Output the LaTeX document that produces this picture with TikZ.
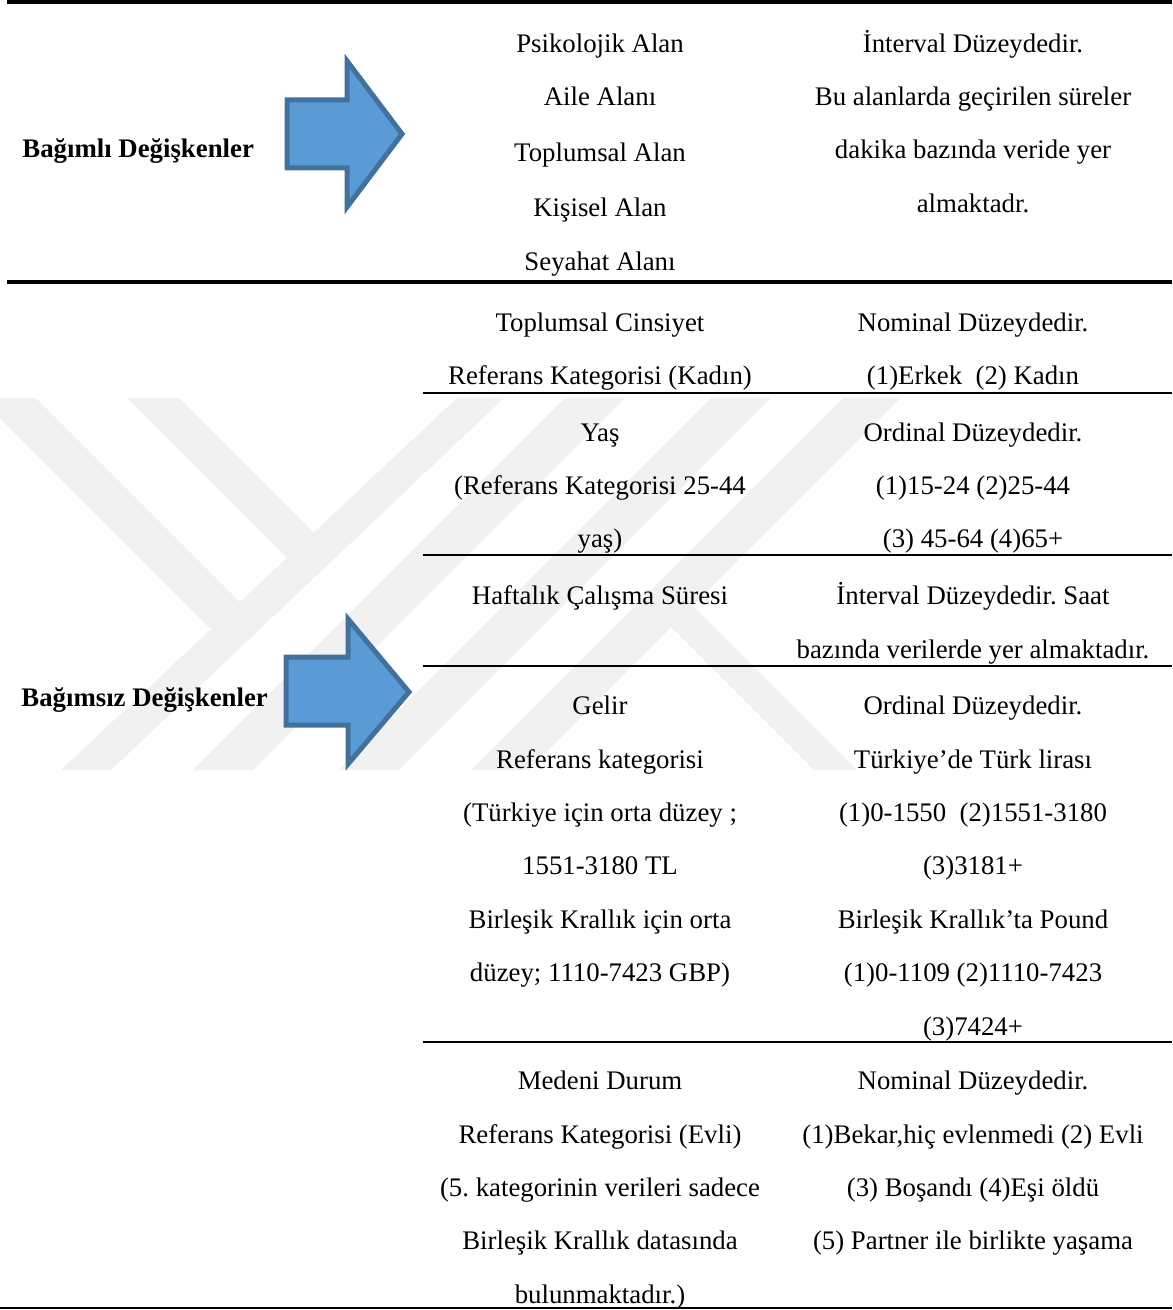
\documentclass[tikz,border=0pt]{standalone}
\usepackage{fontspec}
\setmainfont{Liberation Serif}
\frenchspacing
\definecolor{arrowfill}{HTML}{5B9BD5}
\definecolor{arrowline}{HTML}{41719C}
\definecolor{wmgray}{HTML}{F1F1F1}
\begin{document}
\begin{tikzpicture}[x=0.5pt,y=-0.5pt,
  cell/.style={font=\fontsize{13.4}{15}\selectfont, inner sep=0pt, anchor=base, yshift=-0.75pt},
  lbl/.style={font=\fontsize{13.4}{15}\selectfont\bfseries, inner sep=0pt, anchor=base west, yshift=-0.5pt},
  thickrule/.style={line width=2.2pt},
  thinrule/.style={line width=1.3pt},
  bigarrow/.style={fill=arrowfill, draw=arrowline, line width=2.5pt, line join=miter},
  wm/.style={fill=wmgray}]
\useasboundingbox (0,0) rectangle (1172,1310);
\fill[white] (0,0) rectangle (1172,1310);
% watermark
\begin{scope}
  \clip (0,398) rectangle (1010,770);
  \fill[wm] (457,398) -- (504,398) -- (111,770) -- (61,770) -- cycle;
  \fill[wm] (565,398) -- (625,398) -- (253,770) -- (193,770) -- cycle;
  \fill[wm] (711,398) -- (771,398) -- (399,770) -- (339,770) -- cycle;
  \fill[wm] (843,398) -- (900,398) -- (528,770) -- (471,770) -- cycle;
  \fill[wm] (-20,398) -- (36,398) -- (251.7,613.7) -- (222.9,640.9) -- cycle;
  \fill[wm] (127,398) -- (179,398) -- (325.3,544.3) -- (298.6,569.6) -- cycle;
  \fill[wm] (656.75,612.75) -- (678.25,591.25) -- (857,770) -- (814,770) -- cycle;
\end{scope}
% rules
\draw[thickrule] (7,2) -- (1172,2);
\draw[thickrule] (7,282) -- (1172,282);
\draw[thinrule] (423,393) -- (1172,393);
\draw[thinrule] (423,555) -- (1172,555);
\draw[thinrule] (423,666) -- (1172,666);
\draw[thinrule] (423,1042) -- (1172,1042);
\draw[thinrule] (0,1308) -- (1172,1308);
% arrows
\draw[bigarrow] (287,100) -- (347,100) -- (347,61) -- (402,134) -- (347,207) -- (347,168) -- (287,168) -- cycle;
\draw[bigarrow] (286,657) -- (348,657) -- (348,619) -- (409,692) -- (348,764) -- (348,725) -- (286,725) -- cycle;
% left labels
\node[lbl] (dep) at (22,157) {Bağımlı Değişkenler};
\node[lbl] (indep) at (21,705) {Bağımsız Değişkenler};
% section 1
\node[cell] (a1) at (600,51) {Psikolojik Alan};
\node[cell] (a2) at (600,104) {Aile Alanı};
\node[cell] (a3) at (600,160) {Toplumsal Alan};
\node[cell] (a4) at (600,215) {Kişisel Alan};
\node[cell] (a5) at (600,269) {Seyahat Alanı};
\node[cell] (b1) at (973,51) {İnterval Düzeydedir.};
\node[cell] (b2) at (973,104) {Bu alanlarda geçirilen süreler};
\node[cell] (b3) at (973,157) {dakika bazında veride yer};
\node[cell] (b4) at (973,211) {almaktadr.};
% gender
\node[cell] (c1) at (600,330) {Toplumsal Cinsiyet};
\node[cell] (c2) at (600,383) {Referans Kategorisi (Kadın)};
\node[cell] (d1) at (973,330) {Nominal Düzeydedir.};
\node[cell] (d2) at (973,383) {(1)Erkek~~(2) Kadın};
% age
\node[cell] (e1) at (600,440) {Yaş};
\node[cell] (e2) at (600,493) {(Referans Kategorisi 25-44};
\node[cell] (e3) at (600,546) {yaş)};
\node[cell] (f1) at (973,440) {Ordinal Düzeydedir.};
\node[cell] (f2) at (973,493) {(1)15-24 (2)25-44};
\node[cell] (f3) at (973,546) {(3) 45-64 (4)65+};
% hours
\node[cell] (g1) at (600,603) {Haftalık Çalışma Süresi};
\node[cell] (h1) at (973,603) {İnterval Düzeydedir. Saat};
\node[cell] (h2) at (973,657) {bazında verilerde yer almaktadır.};
% income
\node[cell] (i1) at (600,713) {Gelir};
\node[cell] (i2) at (600,767) {Referans kategorisi};
\node[cell] (i3) at (600,820) {(Türkiye için orta düzey ;};
\node[cell] (i4) at (600,873) {1551-3180 TL};
\node[cell] (i5) at (600,927) {Birleşik Krallık için orta};
\node[cell] (i6) at (600,980) {düzey; 1110-7423 GBP)};
\node[cell] (j1) at (973,713) {Ordinal Düzeydedir.};
\node[cell] (j2) at (973,767) {Türkiye’de Türk lirası};
\node[cell] (j3) at (973,820) {(1)0-1550~~(2)1551-3180};
\node[cell] (j4) at (973,873) {(3)3181+};
\node[cell] (j5) at (973,927) {Birleşik Krallık’ta Pound};
\node[cell] (j6) at (973,980) {(1)0-1109 (2)1110-7423};
\node[cell] (j7) at (973,1034) {(3)7424+};
% marital
\node[cell] (k1) at (600,1088) {Medeni Durum};
\node[cell] (k2) at (600,1142) {Referans Kategorisi (Evli)};
\node[cell] (k3) at (600,1195) {(5. kategorinin verileri sadece};
\node[cell] (k4) at (600,1248) {Birleşik Krallık datasında};
\node[cell] (k5) at (600,1302) {bulunmaktadır.)};
\node[cell] (l1) at (973,1088) {Nominal Düzeydedir.};
\node[cell] (l2) at (973,1142) {(1)Bekar,hiç evlenmedi (2) Evli};
\node[cell] (l3) at (973,1195) {(3) Boşandı (4)Eşi öldü};
\node[cell] (l4) at (973,1248) {(5) Partner ile birlikte yaşama};
\end{tikzpicture}
\end{document}
